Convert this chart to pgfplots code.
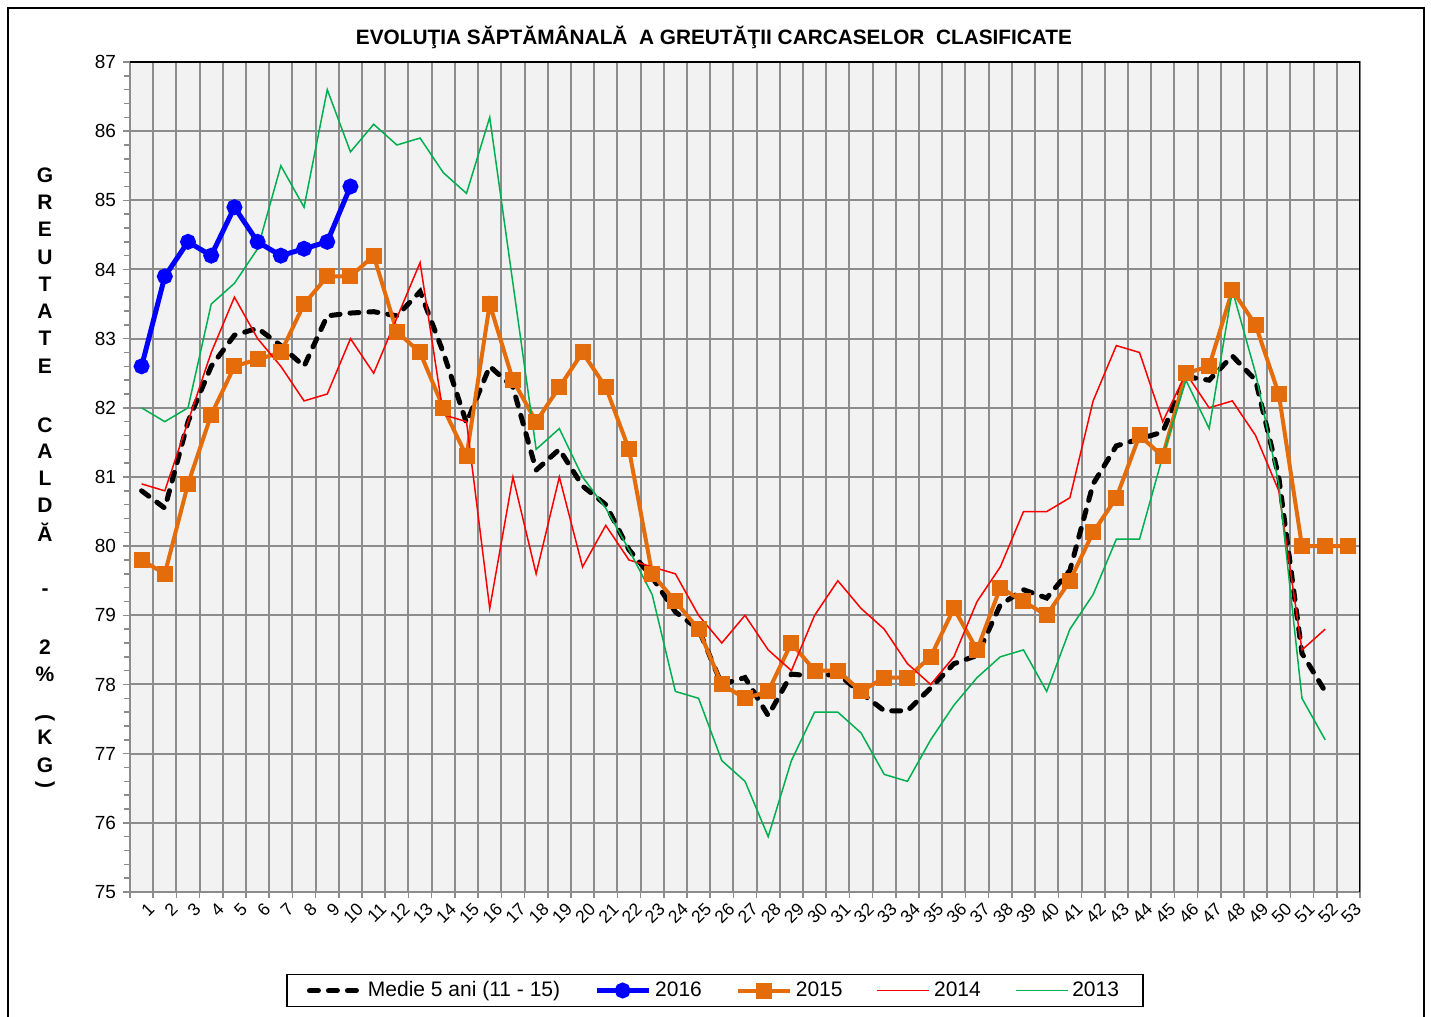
\documentclass[border=0pt]{standalone}
\usepackage{pgfplots}
\pgfplotsset{compat=1.18}
\usepackage{graphicx}
\usepackage{fontspec}
\setmainfont{Liberation Sans}
\definecolor{myorange}{RGB}{228,108,10}
\definecolor{mygreen}{RGB}{0,176,80}
\definecolor{bgc}{RGB}{242,242,242}
\definecolor{gridgray}{RGB}{140,140,140}
\begin{document}
\begin{tikzpicture}
\useasboundingbox (0,0) rectangle (715.5pt,508.5pt);
\fill[white] (0,0) rectangle (715.5pt,508.5pt);
\draw[black, line width=0.7pt] (4pt,-5pt) -- (4pt,504.5pt) -- (712pt,504.5pt) -- (712pt,-5pt);
\begin{axis}[
  at={(65pt,62.5pt)}, anchor=south west,
  scale only axis, width=615pt, height=415pt,
  xmin=0.5, xmax=53.5, ymin=75, ymax=87,
  axis background/.style={fill=bgc},
  axis line style={gridgray, line width=1pt},
  ytick={75,76,...,87},
  minor y tick num=4,
  xtick={1,2,...,53},
  minor xtick={0.5,1.5,...,53.5},
  ymajorgrids, xminorgrids,
  major grid style={gridgray, line width=1pt},
  minor grid style={gridgray, line width=1pt},
  tick align=outside,
  tick pos=left,
  major tick length=3.5pt,
  minor tick length=3pt,
  tick style={gridgray, line width=0.8pt},
  major x tick style={draw=none},
  ticklabel style={font=\fontsize{9.5}{11}\selectfont},
  /pgf/number format/assume math mode=true,
  xticklabel style={font=\fontsize{8.8}{10}\selectfont, rotate=45, anchor=east, inner sep=0.5pt, yshift=-6pt, xshift=1.5pt},
  legend columns=5,
  legend style={at={(rel axis cs:0.4756,-0.1187)}, anchor=center,
    draw=black, fill=white, line width=0.6pt, font=\fontsize{10.5}{12}\selectfont,
    inner xsep=10pt, inner ysep=1.5pt,
    /tikz/every even column/.append style={column sep=15pt}},
  legend image code/.code={\draw[mark repeat=2,mark phase=2,#1] plot coordinates {(0pt,0pt) (13pt,0pt) (26pt,0pt)};},
]
\addplot[black, line width=2.5pt, line cap=round, dash pattern=on 4.5pt off 5pt, mark=none] coordinates {
(1,80.8) (2,80.55) (3,81.8) (4,82.6) (5,83.05) (6,83.15) (7,82.9) (8,82.6) (9,83.33) (10,83.37)
(11,83.39) (12,83.33) (13,83.68) (14,82.8) (15,81.78) (16,82.6) (17,82.3) (18,81.1) (19,81.4) (20,80.87)
(21,80.6) (22,79.95) (23,79.55) (24,79.05) (25,78.8) (26,78.0) (27,78.1) (28,77.55) (29,78.15) (30,78.12)
(31,78.15) (32,77.88) (33,77.62) (34,77.62) (35,77.95) (36,78.3) (37,78.42) (38,79.15) (39,79.37) (40,79.25)
(41,79.65) (42,80.9) (43,81.45) (44,81.55) (45,81.65) (46,82.45) (47,82.4) (48,82.75) (49,82.4) (50,81.0)
(51,78.45) (52,77.9)};
\addlegendentry{Medie 5 ani (11 - 15)}
\addplot[blue, line width=2.5pt, mark=*, mark size=2.7pt, mark options={solid}] coordinates {
(1,82.6) (2,83.9) (3,84.4) (4,84.2) (5,84.9) (6,84.4) (7,84.2) (8,84.3) (9,84.4) (10,85.2)};
\addlegendentry{2016}
\addplot[myorange, line width=2pt, mark=square*, mark size=3pt, mark options={solid}] coordinates {
(1,79.8) (2,79.6) (3,80.9) (4,81.9) (5,82.6) (6,82.7) (7,82.8) (8,83.5) (9,83.9) (10,83.9)
(11,84.2) (12,83.1) (13,82.8) (14,82.0) (15,81.3) (16,83.5) (17,82.4) (18,81.8) (19,82.3) (20,82.8)
(21,82.3) (22,81.4) (23,79.6) (24,79.2) (25,78.8) (26,78.0) (27,77.8) (28,77.9) (29,78.6) (30,78.2)
(31,78.2) (32,77.9) (33,78.1) (34,78.1) (35,78.4) (36,79.1) (37,78.5) (38,79.4) (39,79.2) (40,79.0)
(41,79.5) (42,80.2) (43,80.7) (44,81.6) (45,81.3) (46,82.5) (47,82.6) (48,83.7) (49,83.2) (50,82.2)
(51,80.0) (52,80.0) (53,80.0)};
\addlegendentry{2015}
\addplot[red, line width=0.75pt, mark=none] coordinates {
(1,80.9) (2,80.8) (3,81.8) (4,82.8) (5,83.6) (6,83.0) (7,82.6) (8,82.1) (9,82.2) (10,83.0)
(11,82.5) (12,83.3) (13,84.1) (14,81.9) (15,81.8) (16,79.1) (17,81.0) (18,79.6) (19,81.0) (20,79.7)
(21,80.3) (22,79.8) (23,79.7) (24,79.6) (25,79.0) (26,78.6) (27,79.0) (28,78.5) (29,78.2) (30,79.0)
(31,79.5) (32,79.1) (33,78.8) (34,78.3) (35,78.0) (36,78.4) (37,79.2) (38,79.7) (39,80.5) (40,80.5)
(41,80.7) (42,82.1) (43,82.9) (44,82.8) (45,81.8) (46,82.5) (47,82.0) (48,82.1) (49,81.6) (50,80.8)
(51,78.5) (52,78.8)};
\addlegendentry{2014}
\addplot[mygreen, line width=0.75pt, mark=none] coordinates {
(1,82.0) (2,81.8) (3,82.0) (4,83.5) (5,83.8) (6,84.3) (7,85.5) (8,84.9) (9,86.6) (10,85.7)
(11,86.1) (12,85.8) (13,85.9) (14,85.4) (15,85.1) (16,86.2) (17,83.8) (18,81.4) (19,81.7) (20,81.0)
(21,80.55) (22,79.95) (23,79.3) (24,77.9) (25,77.8) (26,76.9) (27,76.6) (28,75.8) (29,76.9) (30,77.6)
(31,77.6) (32,77.3) (33,76.7) (34,76.6) (35,77.2) (36,77.7) (37,78.1) (38,78.4) (39,78.5) (40,77.9)
(41,78.8) (42,79.3) (43,80.1) (44,80.1) (45,81.3) (46,82.4) (47,81.7) (48,83.7) (49,82.5) (50,80.9)
(51,77.8) (52,77.2)};
\addlegendentry{2013}
\draw[black, line width=0.8pt] (rel axis cs:0,1) -- (rel axis cs:1,1) -- (rel axis cs:1,0);
\end{axis}
\node[font=\fontsize{10.4}{12}\selectfont\bfseries] at (357pt,490pt) {EVOLUŢIA SĂPTĂMÂNALĂ\ \ A GREUTĂŢII CARCASELOR\ \ CLASIFICATE};
\foreach \yy/\ch in {421/G, 407.5/R, 394/E, 380/U, 366.5/T, 353/A, 339.5/T, 325.5/E,
  296/C, 283/A, 269.5/L, 256/D, 242.5/Ă, 212.5/-, 185/2, 171.5/\%, 149.5/{\rotatebox{-90}{(}}, 140/K, 126/G, 116/{\rotatebox{-90}{)}}}
  {\node[font=\fontsize{10.5}{12}\selectfont\bfseries, inner sep=0pt] at (22.5pt,\yy pt) {\ch};}
\end{tikzpicture}
\end{document}
